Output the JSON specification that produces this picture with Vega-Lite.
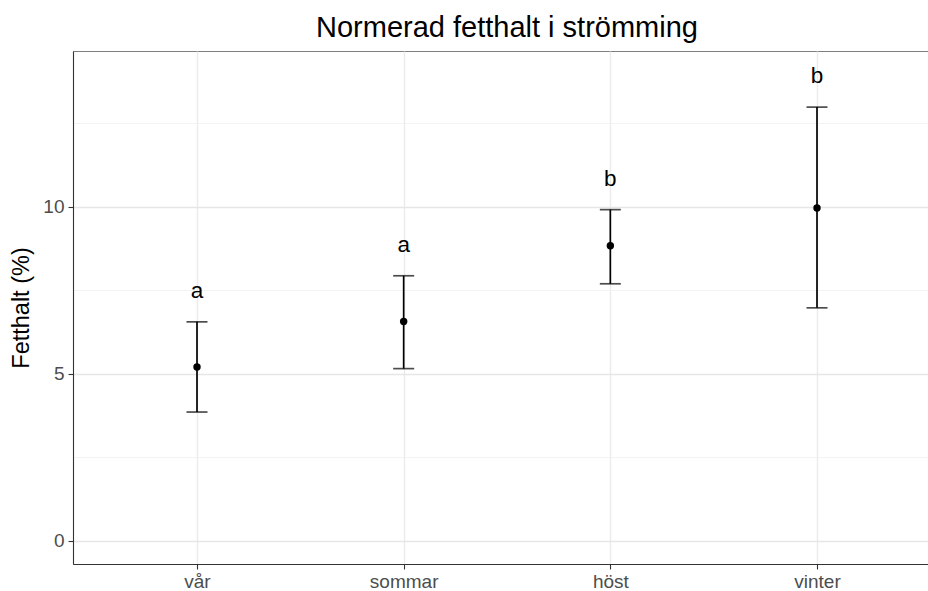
{
  "$schema": "https://vega.github.io/schema/vega-lite/v6.json",
  "autosize": "none",
  "width": 868,
  "height": 513,
  "padding": {"left": 73, "top": 51, "right": 0, "bottom": 27},
  "background": "white",
  "title": {"text": "Normerad fetthalt i strömming", "font": "Liberation Sans", "fontSize": 29, "fontWeight": "normal", "color": "black", "anchor": "middle", "offset": 8},
  "config": {
    "view": {"stroke": "#7f7f7f", "strokeWidth": 1},
    "font": "Liberation Sans"
  },
  "data": {"values": [
    {"season": "vår", "mean": 5.20, "lower": 3.85, "upper": 6.55, "group": "a"},
    {"season": "sommar", "mean": 6.56, "lower": 5.15, "upper": 7.93, "group": "a"},
    {"season": "höst", "mean": 8.83, "lower": 7.69, "upper": 9.91, "group": "b"},
    {"season": "vinter", "mean": 9.96, "lower": 6.97, "upper": 12.98, "group": "b"}
  ]},
  "encoding": {
    "x": {"field": "season", "type": "nominal", "sort": ["vår", "sommar", "höst", "vinter"],
      "scale": {"type": "point", "padding": 0.6},
      "axis": {"title": null, "labelAngle": 0, "labelFont": "Liberation Sans", "labelFontSize": 19, "labelColor": "#4d4d4d", "labelPadding": 3,
        "tickColor": "#333333", "tickSize": 5, "tickWidth": 1.1, "domainColor": "#333333", "domainWidth": 1.1,
        "grid": true, "gridColor": "#ebebeb", "gridWidth": 1.4}}
  },
  "layer": [
    {
      "mark": {"type": "rule", "color": "black", "strokeWidth": 1.7},
      "encoding": {
        "y": {"field": "lower", "type": "quantitative", "scale": {"domain": [-0.7, 14.66], "nice": false, "zero": false},
          "axis": {"title": "Fetthalt (%)", "titleFont": "Liberation Sans", "titleFontSize": 23.5, "titleFontWeight": "normal", "titleColor": "black", "titlePadding": 9,
            "values": [0, 2.5, 5, 7.5, 10, 12.5],
            "labelExpr": "datum.value % 5 === 0 ? datum.label : ''",
            "labelFont": "Liberation Sans", "labelFontSize": 19, "labelColor": "#4d4d4d", "labelPadding": 4,
            "tickColor": {"condition": {"test": "datum.value % 5 === 0", "value": "#333333"}, "value": "transparent"},
            "tickSize": 5, "tickWidth": 1.1, "domainColor": "#333333", "domainWidth": 1.1,
            "grid": true,
            "gridColor": {"condition": {"test": "datum.value % 5 === 0", "value": "#e6e6e6"}, "value": "#f0f0f0"},
            "gridWidth": {"condition": {"test": "datum.value % 5 === 0", "value": 1.4}, "value": 0.8}}},
        "y2": {"field": "upper"}
      }
    },
    {
      "mark": {"type": "tick", "color": "black", "thickness": 1.7, "size": 21, "orient": "horizontal"},
      "encoding": {"y": {"field": "lower", "type": "quantitative"}}
    },
    {
      "mark": {"type": "tick", "color": "black", "thickness": 1.7, "size": 21, "orient": "horizontal"},
      "encoding": {"y": {"field": "upper", "type": "quantitative"}}
    },
    {
      "mark": {"type": "point", "filled": true, "color": "black", "size": 55, "opacity": 1},
      "encoding": {"y": {"field": "mean", "type": "quantitative"}}
    },
    {
      "mark": {"type": "text", "font": "Liberation Sans", "fontSize": 22.5, "color": "black", "baseline": "alphabetic", "dy": -24},
      "encoding": {"y": {"field": "upper", "type": "quantitative"}, "text": {"field": "group"}}
    }
  ]
}
